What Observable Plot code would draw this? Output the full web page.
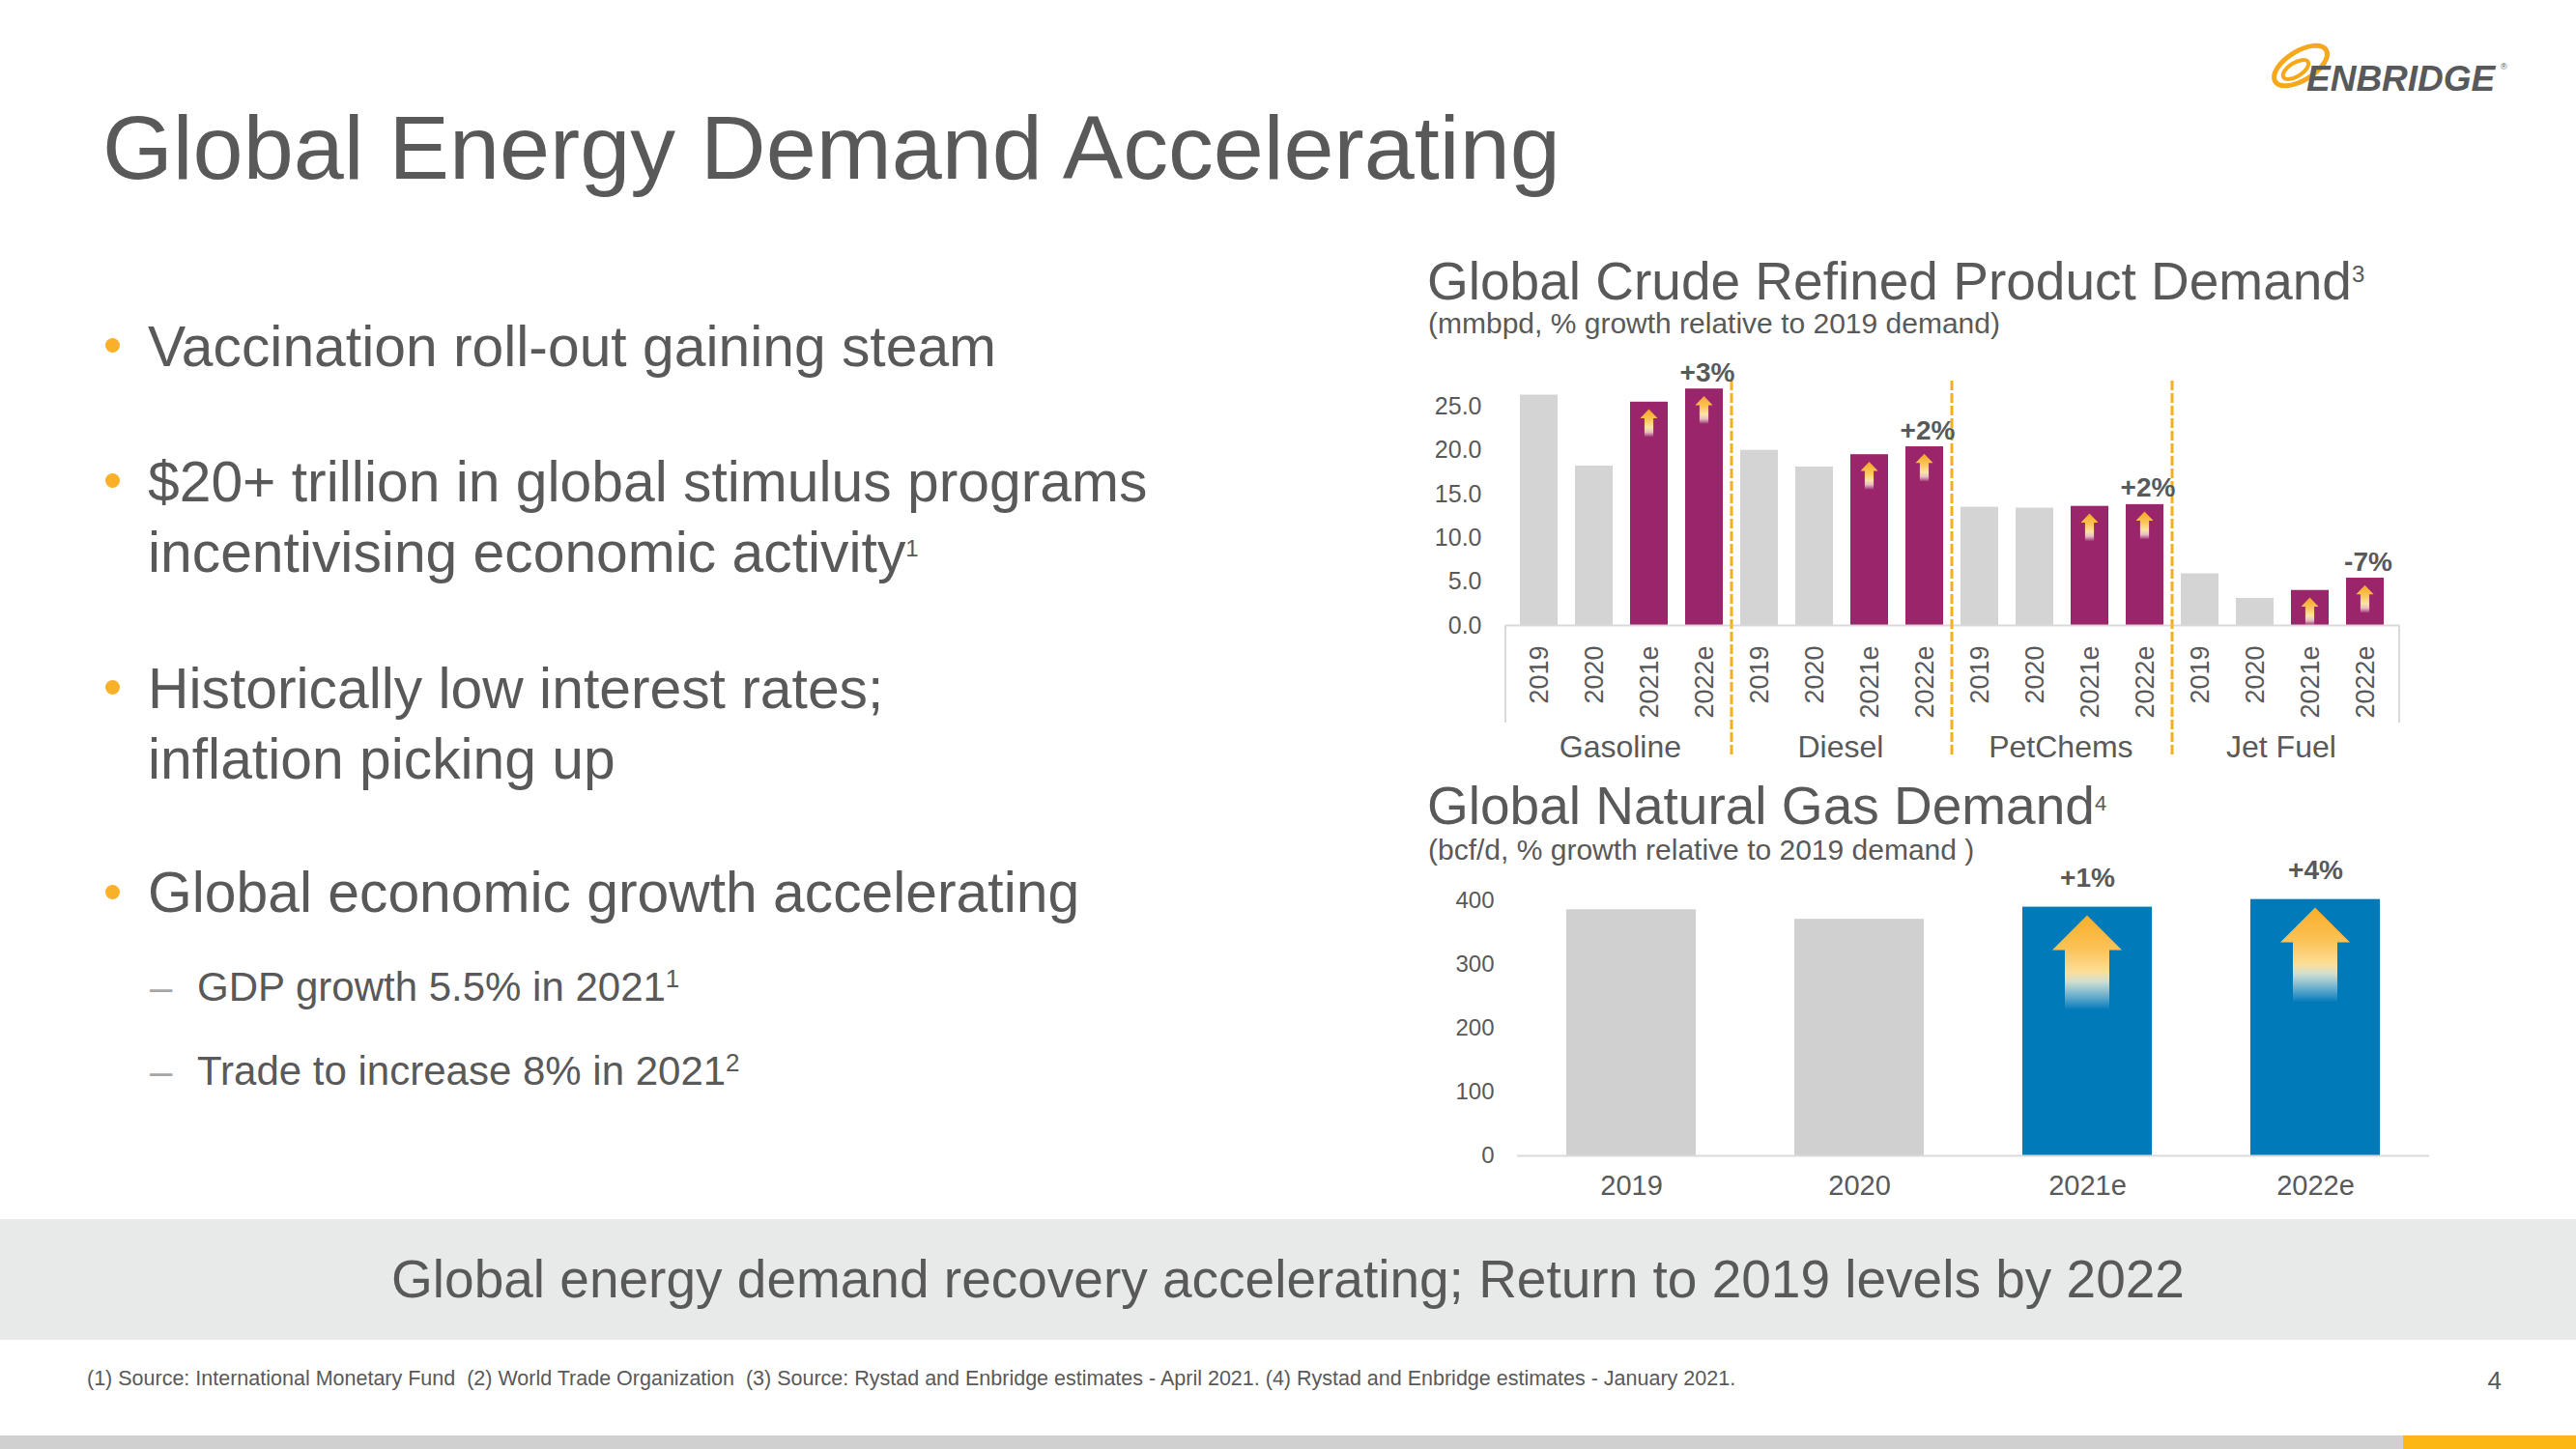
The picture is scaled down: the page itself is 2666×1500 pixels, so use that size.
<!DOCTYPE html>
<html>
<head>
<meta charset="utf-8">
<script src="https://cdn.jsdelivr.net/npm/d3@7"></script>
<script src="https://cdn.jsdelivr.net/npm/@observablehq/plot@0.6"></script>
<style>
  html, body { margin: 0; padding: 0; background: #ffffff; }
  body { width: 2666px; height: 1500px; position: relative; overflow: hidden;
         font-family: "Liberation Sans", Arial, sans-serif; color: #595959; }
  .abs { position: absolute; white-space: nowrap; }
  .title { left: 106px; top: 106px; font-size: 93.6px; line-height: 1; }
  .ctitle { font-size: 55px; line-height: 1; }
  .csub { font-size: 30px; line-height: 1; }
  .bullet { font-size: 58.8px; line-height: 73px; left: 153px; }
  .dot { position: absolute; width: 15px; height: 15px; border-radius: 50%; background: #FBB02A; left: 108.5px; }
  .sub { font-size: 42px; line-height: 50px; left: 204px; }
  .dash { font-size: 42px; line-height: 50px; left: 155px; color: #A6A6A6; }
  .sup { line-height: 0; }
  #chart1 { position: absolute; left: 1470px; top: 360px; width: 1030px; }
  #chart2 { position: absolute; left: 1470px; top: 870px; width: 1060px; }
  #chart1 [aria-label^="x-axis"] text { font-size: 27px; }
  #chart2 [aria-label^="x-axis"] text { font-size: 29px; }
  .banner { position: absolute; left: 0; top: 1262px; width: 2666px; height: 125px; background: #E8E9E9; }
  .bannertext { position: absolute; left: 0; width: 2666px; top: 1297px; text-align: center; font-size: 55px; line-height: 1; }
  .foot { left: 90px; top: 1417px; font-size: 21.5px; line-height: 1; }
  .page { right: 77px; top: 1416px; font-size: 26px; line-height: 1; }
  .strip { position: absolute; left: 0; top: 1486px; width: 2666px; height: 14px; background: #D0D0D0; }
  .strip2 { position: absolute; left: 2487px; top: 1486px; width: 179px; height: 14px; background: #FDB715; }
</style>
</head>
<body>

<div class="abs title">Global Energy Demand Accelerating</div>

<svg class="abs" style="left:2345px; top:38px" width="260" height="66" viewBox="0 0 260 66">
  <ellipse cx="36" cy="30" rx="31" ry="15" transform="rotate(-32 36 30)" fill="none" stroke="#F5A81C" stroke-width="5"/>
  <ellipse cx="31" cy="34" rx="15" ry="7" transform="rotate(-32 31 34)" fill="none" stroke="#F5A81C" stroke-width="4"/>
  <text x="42" y="56" font-family="Liberation Sans, Arial, sans-serif" font-weight="bold" font-style="italic" font-size="37" fill="#58595B">ENBRIDGE</text>
  <text x="243" y="34" font-family="Liberation Sans, Arial, sans-serif" font-size="9" fill="#58595B">®</text>
</svg>

<div class="dot" style="top:350px"></div>
<div class="abs bullet" style="top:321.5px">Vaccination roll-out gaining steam</div>

<div class="dot" style="top:490px"></div>
<div class="abs bullet" style="top:461.5px">$20+ trillion in global stimulus programs<br>incentivising economic activity<span class="sup" style="font-size:24px; vertical-align:16px">1</span></div>

<div class="dot" style="top:704px"></div>
<div class="abs bullet" style="top:675.5px">Historically low interest rates;<br>inflation picking up</div>

<div class="dot" style="top:916px"></div>
<div class="abs bullet" style="top:887px">Global economic growth accelerating</div>

<div class="abs dash" style="top:997px">–</div>
<div class="abs sub" style="top:997px">GDP growth 5.5% in 2021<span class="sup" style="font-size:26px; vertical-align:14px">1</span></div>
<div class="abs dash" style="top:1084px">–</div>
<div class="abs sub" style="top:1084px">Trade to increase 8% in 2021<span class="sup" style="font-size:26px; vertical-align:14px">2</span></div>

<div class="abs ctitle" style="left:1477px; top:263.5px">Global Crude Refined Product Demand<span class="sup" style="font-size:24px; vertical-align:18px">3</span></div>
<div class="abs csub" style="left:1478px; top:319.5px">(mmbpd, % growth relative to 2019 demand)</div>

<div class="abs ctitle" style="left:1477px; top:806.5px">Global Natural Gas Demand<span class="sup" style="font-size:22px; vertical-align:14px">4</span></div>
<div class="abs csub" style="left:1478px; top:864.5px">(bcf/d, % growth relative to 2019 demand )</div>

<div id="chart1"></div>
<div id="chart2"></div>

<div class="banner"></div>
<div class="bannertext">Global energy demand recovery accelerating; Return to 2019 levels by 2022</div>

<div class="abs foot">(1) Source: International Monetary Fund&nbsp; (2) World Trade Organization&nbsp; (3) Source: Rystad and Enbridge estimates - April 2021. (4) Rystad and Enbridge estimates - January 2021.</div>
<div class="abs page">4</div>
<div class="strip"></div>
<div class="strip2"></div>

<script>
// ---------- DATA ----------
const crudeGroups = ["Gasoline", "Diesel", "PetChems", "Jet Fuel"];
const crudeYears = ["2019", "2020", "2021e", "2022e"];
const gasolineValues = [26.3, 18.2, 25.5, 27.0];
const dieselValues = [20.0, 18.1, 19.5, 20.4];
const petchemsValues = [13.5, 13.4, 13.6, 13.8];
const jetFuelValues = [5.9, 3.1, 4.0, 5.4];
const crudeGrowthLabels = ["+3%", "+2%", "+2%", "-7%"];
const crudeTicks = [0, 5, 10, 15, 20, 25];

const gasYears = ["2019", "2020", "2021e", "2022e"];
const gasValues = [386, 371, 390, 402];
const gasGrowthLabels = ["", "", "+1%", "+4%"];
const gasTicks = [0, 100, 200, 300, 400];

const estimateYears = ["2021e", "2022e"];

// ---------- STYLE ----------
const GRAY = "#D4D4D4";
const GRAY2 = "#D0D0D0";
const PURPLE = "#9B256A";
const BLUE = "#007AB9";
const TEXT = "#595959";
const ORANGE = "#F6B01E";
const AXIS = "#D9D9D9";
const FONT = "Liberation Sans, Arial, sans-serif";

// ---------- TABLES ----------
const crudeSeries = [gasolineValues, dieselValues, petchemsValues, jetFuelValues];
const crude = crudeGroups.flatMap((g, gi) => crudeYears.map((yr, yi) => ({
  group: g, year: yr, key: g + "|" + yr, value: crudeSeries[gi][yi],
  kind: estimateYears.includes(yr) ? "estimate" : "actual",
  label: yi === crudeYears.length - 1 ? crudeGrowthLabels[gi] : ""
})));
const gas = gasYears.map((yr, i) => ({
  year: yr, value: gasValues[i], label: gasGrowthLabels[i],
  kind: estimateYears.includes(yr) ? "estimate" : "actual"
}));

function arrowPath(cx, t, headHalf, headH, shaftHalf, len) {
  return `M${cx},${t} L${cx + headHalf},${t + headH} L${cx + shaftHalf},${t + headH} L${cx + shaftHalf},${t + len} ` +
         `L${cx - shaftHalf},${t + len} L${cx - shaftHalf},${t + headH} L${cx - headHalf},${t + headH} Z`;
}
function addGradient(g, id, stops) {
  const lg = g.append("defs").append("linearGradient").attr("id", id)
    .attr("x1", 0).attr("y1", 0).attr("x2", 0).attr("y2", 1);
  stops.forEach(([o, c, op]) => lg.append("stop").attr("offset", o).attr("stop-color", c).attr("stop-opacity", op));
}

// ---------- CHART 1 ----------
const W1 = 1030, H1 = 440, ML1 = 88, MR1 = 17, MT1 = 15, MB1 = 153;
const step1 = (W1 - ML1 - MR1) / crude.length;

function crudeDecor(index, scales) {
  const x = scales.x, y = scales.y;
  const g = d3.create("svg:g");
  addGradient(g, "arrowGradTop", [[0, "#F6A623", 1], [0.4, "#FBC75B", 1], [0.65, "#FDE4A3", 1], [0.82, "#FFF1DA", 0.75], [1, "#FFFFFF", 0]]);
  const [r0, r1] = x.range();
  const y0 = y(0);
  [r0, r1].forEach(xx => g.append("line").attr("x1", xx).attr("x2", xx).attr("y1", y0).attr("y2", y0 + 101)
    .attr("stroke", AXIS).attr("stroke-width", 2));
  const bw = x.bandwidth();
  const gap = x.step() - bw;
  crudeGroups.slice(1).forEach(grp => {
    const xx = x(grp + "|" + crudeYears[0]) - gap / 2;
    g.append("line").attr("x1", xx).attr("x2", xx).attr("y1", y0 - 253).attr("y2", y0 + 135)
      .attr("stroke", ORANGE).attr("stroke-width", 3).attr("stroke-dasharray", "10,3");
  });
  crude.filter(d => d.kind === "estimate").forEach(d => {
    const cx = x(d.key) + bw / 2;
    const t = y(d.value) + 7.7;
    g.append("path").attr("d", arrowPath(cx, t, 9, 9.5, 4.6, 29)).attr("fill", "url(#arrowGradTop)");
  });
  return g.node();
}

const chart1 = Plot.plot({
  width: W1, height: H1,
  marginLeft: ML1, marginRight: MR1, marginTop: MT1, marginBottom: MB1,
  style: {fontFamily: FONT, fontSize: "25px", color: TEXT, background: "transparent", overflow: "visible"},
  x: {domain: crude.map(d => d.key), paddingInner: 0.315, paddingOuter: 0.1575,
      tickFormat: k => k.split("|")[1], tickRotate: -90, tickSize: 0, tickPadding: 21, label: null},
  y: {domain: [0, 30], ticks: crudeTicks, tickFormat: d3.format(".1f"), tickSize: 0, tickPadding: 25, label: null},
  color: {domain: ["actual", "estimate"], range: [GRAY, PURPLE]},
  marks: [
    Plot.barY(crude, {x: "key", y: "value", fill: "kind"}),
    Plot.ruleY([0], {stroke: AXIS, strokeWidth: 2}),
    crudeDecor,
    Plot.text(crude.filter(d => d.label), {x: "key", y: "value", text: "label", lineAnchor: "bottom",
      dy: -8, dx: 3, fontWeight: "bold", fontSize: 28, fill: TEXT}),
    Plot.text(crudeGroups, {x: g => g + "|" + crudeYears[1], text: d => d, frameAnchor: "bottom",
      dy: 136, dx: step1 / 2 - 2, fontSize: 32, fill: TEXT})
  ]
});
document.getElementById("chart1").append(chart1);

// ---------- CHART 2 ----------
function gasDecor(index, scales) {
  const x = scales.x, y = scales.y;
  const g = d3.create("svg:g");
  addGradient(g, "arrowGradGas", [[0, "#F8AE2A", 1], [0.35, "#FBC256", 1], [0.6, "#FDDF99", 1], [0.7, "#DCE4D2", 0.95], [1, "#EAF2F7", 0]]);
  const bw = x.bandwidth();
  gas.filter(d => d.kind === "estimate").forEach(d => {
    const cx = x(d.year) + bw / 2;
    const t = y(d.value) + 8.8;
    g.append("path").attr("d", arrowPath(cx, t, 36, 36, 23, 98)).attr("fill", "url(#arrowGradGas)");
  });
  return g.node();
}

const chart2 = Plot.plot({
  width: 1060, height: 390,
  marginLeft: 100, marginRight: 16, marginTop: 62, marginBottom: 64,
  style: {fontFamily: FONT, fontSize: "24px", color: TEXT, background: "transparent", overflow: "visible"},
  x: {domain: gasYears, paddingInner: 0.432, paddingOuter: 0.216, tickSize: 0, tickPadding: 20, label: null},
  y: {domain: [0, 400], ticks: gasTicks, tickSize: 0, tickPadding: 24, label: null},
  color: {domain: ["actual", "estimate"], range: [GRAY2, BLUE]},
  marks: [
    Plot.barY(gas, {x: "year", y: "value", fill: "kind"}),
    Plot.ruleY([0], {stroke: AXIS, strokeWidth: 2}),
    gasDecor,
    Plot.text(gas.filter(d => d.label), {x: "year", y: "value", text: "label", lineAnchor: "bottom",
      dy: -21, fontWeight: "bold", fontSize: 28, fill: TEXT})
  ]
});
document.getElementById("chart2").append(chart2);
</script>
</body>
</html>
